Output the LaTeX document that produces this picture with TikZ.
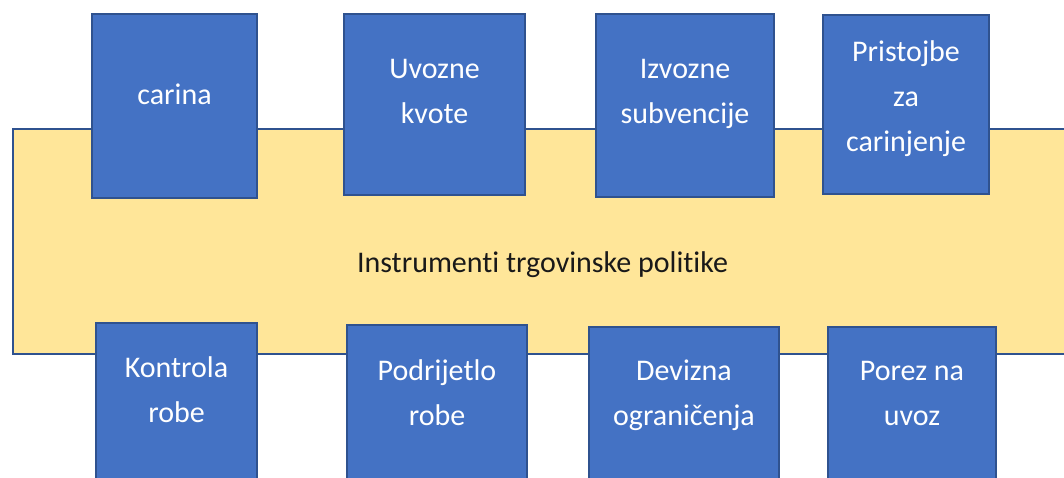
\documentclass[tikz,border=0pt]{standalone}
\usepackage{fontspec}
\setmainfont[Ligatures=NoCommon]{Carlito}
\definecolor{boxblue}{HTML}{4472C4}
\definecolor{edgeblue}{HTML}{2F528F}
\definecolor{paleyellow}{HTML}{FFE699}
\begin{document}
\begin{tikzpicture}[x=1pt,y=-1pt,
  bluebox/.style={draw=edgeblue,line width=2.2pt,fill=boxblue,inner sep=0pt},
  yellowbox/.style={draw=edgeblue,line width=2.2pt,fill=paleyellow,inner sep=0pt,anchor=north west},
  boxtext/.style={text=white,align=center,inner sep=0pt,font=\fontsize{30}{45}\selectfont},
  maintext/.style={text=black!90,align=center,inner sep=0pt,font=\fontsize{30}{45}\selectfont}]
\useasboundingbox (0,0) rectangle (1064,478);
\clip (0,0) rectangle (1064,478);
\fill[white] (0,0) rectangle (1064,478);
% base band
\node[yellowbox,minimum width=1080pt,minimum height=225pt] (band) at (12,128) {};
\node[maintext] (bandtext) at (542.5,263) {\strut Instrumenti trgovinske politike};
% top boxes
\node[bluebox,minimum width=165pt,minimum height=184pt] (b1) at (174.5,106) {};
\node[boxtext] (t1) at (174.5,96) {\strut carina};
\node[bluebox,minimum width=181pt,minimum height=181pt] (b2) at (434.5,104.5) {};
\node[boxtext] (t2) at (434.5,92.5) {\strut Uvozne\\\strut kvote};
\node[bluebox,minimum width=178pt,minimum height=183pt] (b3) at (685,105.5) {};
\node[boxtext] (t3) at (685,92.5) {\strut Izvozne\\\strut subvencije};
\node[bluebox,minimum width=166pt,minimum height=179pt] (b4) at (906,104.5) {};
\node[boxtext] (t4) at (906,98) {\strut Pristojbe\\\strut za\\\strut carinjenje};
% bottom boxes
\node[bluebox,minimum width=161pt,minimum height=197pt] (b5) at (176.5,421.5) {};
\node[boxtext] (t5) at (176.5,390.5) {\strut Kontrola\\\strut robe};
\node[bluebox,minimum width=180pt,minimum height=195pt] (b6) at (437,422.5) {};
\node[boxtext] (t6) at (437,393.5) {\strut Podrijetlo\\\strut robe};
\node[bluebox,minimum width=190pt,minimum height=193pt] (b7) at (684,423.5) {};
\node[boxtext] (t7) at (684,393.5) {\strut Devizna\\\strut ograničenja};
\node[bluebox,minimum width=168pt,minimum height=193pt] (b8) at (912,423.5) {};
\node[boxtext] (t8) at (912,393.5) {\strut Porez na\\\strut uvoz};
\end{tikzpicture}
\end{document}
